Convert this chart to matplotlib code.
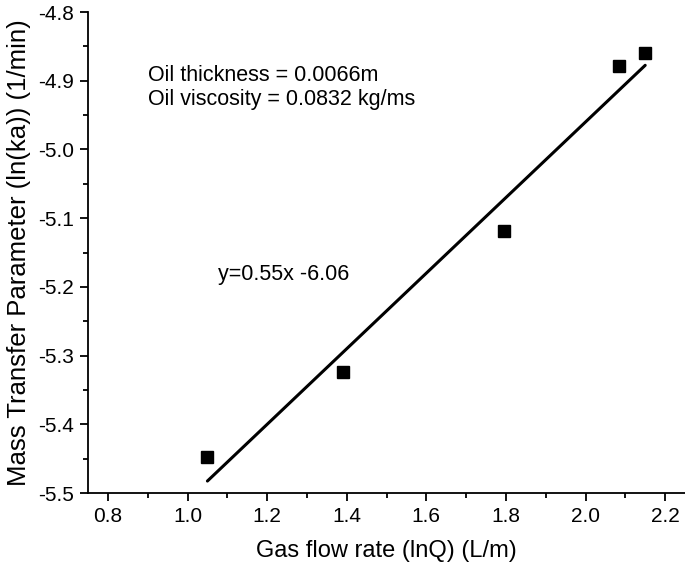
import matplotlib
matplotlib.use("Agg")
import matplotlib.pyplot as plt
from matplotlib.ticker import MultipleLocator, FormatStrFormatter
import numpy as np

plt.rcParams['font.family'] = ['Liberation Sans', 'DejaVu Sans']

x_vals = [1.05, 1.39, 1.795, 2.085, 2.15]
y_vals = [-5.447, -5.324, -5.119, -4.878, -4.859]
slope = 0.55
intercept = -6.06
fit_range = [1.05, 2.15]

fig = plt.figure(figsize=(6.85, 5.74), dpi=100)
ax = fig.add_axes([0.1285, 0.141, 0.8715, 0.838])

ax.plot(x_vals, y_vals, 's', color='black', markersize=8, zorder=3)
fx = np.array(fit_range)
ax.plot(fx, slope * fx + intercept, '-', color='black', lw=2.2, solid_capstyle='round')

ax.set_xlim(0.75, 2.25)
ax.set_ylim(-5.5, -4.8)
ax.xaxis.set_major_locator(MultipleLocator(0.2))
ax.xaxis.set_minor_locator(MultipleLocator(0.1))
ax.yaxis.set_major_locator(MultipleLocator(0.1))
ax.yaxis.set_minor_locator(MultipleLocator(0.05))
ax.xaxis.set_major_formatter(FormatStrFormatter('%.1f'))
ax.yaxis.set_major_formatter(FormatStrFormatter('%.1f'))

for s in ['top', 'right']:
    ax.spines[s].set_visible(False)
for s in ['left', 'bottom']:
    ax.spines[s].set_linewidth(1.3)

ax.tick_params(which='major', direction='out', length=6, width=1.3, labelsize=15, pad=4)
ax.tick_params(which='minor', direction='out', length=3.5, width=1.3)

ax.set_xlabel('Gas flow rate (lnQ) (L/m)', fontsize=17, labelpad=10)
ax.set_ylabel('Mass Transfer Parameter (ln(ka)) (1/min)', fontsize=18.5, labelpad=5)

ax.text(0.9, -4.9, 'Oil thickness = 0.0066m', fontsize=15.5, va='baseline', ha='left')
ax.text(0.9, -4.935, 'Oil viscosity = 0.0832 kg/ms', fontsize=15.5, va='baseline', ha='left')
ax.text(1.076, -5.19, 'y=0.55x -6.06', fontsize=15.5, va='baseline', ha='left')

fig.savefig('out.png', dpi=100)
